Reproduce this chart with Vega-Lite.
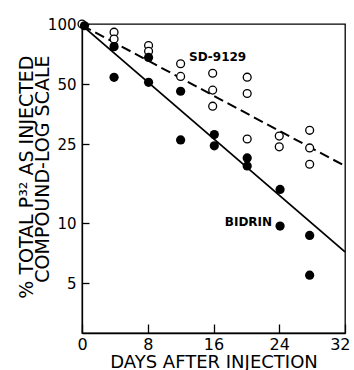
{
  "$schema": "https://vega.github.io/schema/vega-lite/v6.json",
  "width": 263,
  "height": 309,
  "autosize": {"type": "none"},
  "padding": {"left": 82, "top": 24, "right": 9, "bottom": 37},
  "background": "white",
  "config": {
    "font": "DejaVu Sans",
    "view": {"stroke": "black", "strokeWidth": 1.3}
  },
  "datasets": {
    "points": [
      {"series": "SD-9129", "day": 0, "pct": 100},
      {"series": "SD-9129", "day": 3.9, "pct": 91},
      {"series": "SD-9129", "day": 3.9, "pct": 84},
      {"series": "SD-9129", "day": 8.1, "pct": 78},
      {"series": "SD-9129", "day": 8.1, "pct": 73},
      {"series": "SD-9129", "day": 12, "pct": 63.2},
      {"series": "SD-9129", "day": 12, "pct": 54.6},
      {"series": "SD-9129", "day": 15.9, "pct": 56.6},
      {"series": "SD-9129", "day": 15.9, "pct": 46.6},
      {"series": "SD-9129", "day": 15.9, "pct": 38.7},
      {"series": "SD-9129", "day": 20.1, "pct": 54.1},
      {"series": "SD-9129", "day": 20.1, "pct": 44.8},
      {"series": "SD-9129", "day": 20.1, "pct": 26.5},
      {"series": "SD-9129", "day": 24, "pct": 27.4},
      {"series": "SD-9129", "day": 24, "pct": 24.2},
      {"series": "SD-9129", "day": 27.7, "pct": 29.3},
      {"series": "SD-9129", "day": 27.7, "pct": 23.9},
      {"series": "SD-9129", "day": 27.7, "pct": 19.8},
      {"series": "BIDRIN", "day": 0.3, "pct": 98},
      {"series": "BIDRIN", "day": 3.9, "pct": 77},
      {"series": "BIDRIN", "day": 3.9, "pct": 54},
      {"series": "BIDRIN", "day": 8.1, "pct": 68},
      {"series": "BIDRIN", "day": 8.1, "pct": 51},
      {"series": "BIDRIN", "day": 12, "pct": 46},
      {"series": "BIDRIN", "day": 12, "pct": 26.2},
      {"series": "BIDRIN", "day": 16.1, "pct": 27.9},
      {"series": "BIDRIN", "day": 16.1, "pct": 24.5},
      {"series": "BIDRIN", "day": 20.1, "pct": 21.3},
      {"series": "BIDRIN", "day": 20.1, "pct": 19.4},
      {"series": "BIDRIN", "day": 24.1, "pct": 14.8},
      {"series": "BIDRIN", "day": 24.1, "pct": 9.7},
      {"series": "BIDRIN", "day": 27.7, "pct": 8.7},
      {"series": "BIDRIN", "day": 27.7, "pct": 5.5}
    ],
    "fits": [
      {"series": "SD-9129", "day": 0, "pct": 98.5},
      {"series": "SD-9129", "day": 32, "pct": 19.4},
      {"series": "BIDRIN", "day": 0, "pct": 98.5},
      {"series": "BIDRIN", "day": 32, "pct": 7.2}
    ],
    "labels": [
      {"label": "SD-9129", "day": 16.5, "pct": 68.5},
      {"label": "BIDRIN", "day": 20.25, "pct": 10.2}
    ]
  },
  "encoding": {
    "x": {
      "field": "day",
      "type": "quantitative",
      "scale": {"domain": [0, 32], "nice": false, "zero": false},
      "axis": {
        "values": [0, 8, 16, 24, 32],
        "title": "DAYS AFTER INJECTION",
        "grid": false,
        "tickSize": -9,
        "tickWidth": 1.3,
        "tickColor": "black",
        "domainColor": "black",
        "domainWidth": 1.3,
        "labelFontSize": 16,
        "labelColor": "black",
        "labelPadding": 12,
        "labelFlush": true,
        "labelFlushOffset": 5,
        "labelOverlap": false,
        "titleFontSize": 18,
        "titleFontWeight": "normal",
        "titleColor": "black",
        "titleBaseline": "alphabetic",
        "titleY": 34
      }
    },
    "y": {
      "field": "pct",
      "type": "quantitative",
      "scale": {"type": "log", "domain": [2.82, 100], "nice": false},
      "axis": {
        "values": [5, 10, 25, 50, 100],
        "format": "d",
        "title": ["% TOTAL P³² AS INJECTED", "COMPOUND-LOG SCALE"],
        "grid": false,
        "tickSize": -7,
        "tickWidth": 1.3,
        "tickColor": "black",
        "domainColor": "black",
        "domainWidth": 1.3,
        "labelFontSize": 15,
        "labelColor": "black",
        "labelPadding": 13,
        "labelFlush": false,
        "labelOverlap": false,
        "titleFontSize": 19,
        "titleFontWeight": "normal",
        "titleColor": "black",
        "titleAngle": -90,
        "titleAlign": "right",
        "titleBaseline": "middle",
        "titleLineHeight": 16,
        "titleX": -56,
        "titleY": 31
      }
    }
  },
  "layer": [
    {
      "data": {"name": "fits"},
      "transform": [{"filter": "datum.series === 'SD-9129'"}],
      "mark": {"type": "line", "color": "black", "strokeWidth": 2, "strokeDash": [10, 5]}
    },
    {
      "data": {"name": "fits"},
      "transform": [{"filter": "datum.series === 'BIDRIN'"}],
      "mark": {"type": "line", "color": "black", "strokeWidth": 1.8}
    },
    {
      "data": {"name": "points"},
      "transform": [{"filter": "datum.series === 'SD-9129'"}],
      "mark": {"type": "point", "shape": "circle", "filled": true, "fill": "white", "stroke": "black", "strokeWidth": 1.3, "size": 62, "opacity": 1}
    },
    {
      "data": {"name": "points"},
      "transform": [{"filter": "datum.series === 'BIDRIN'"}],
      "mark": {"type": "circle", "color": "black", "size": 85, "opacity": 1}
    },
    {
      "data": {"name": "labels"},
      "mark": {"type": "text", "fontSize": 12, "fontWeight": "bold", "align": "center", "baseline": "middle", "color": "black"},
      "encoding": {"text": {"field": "label", "type": "nominal"}}
    }
  ]
}
